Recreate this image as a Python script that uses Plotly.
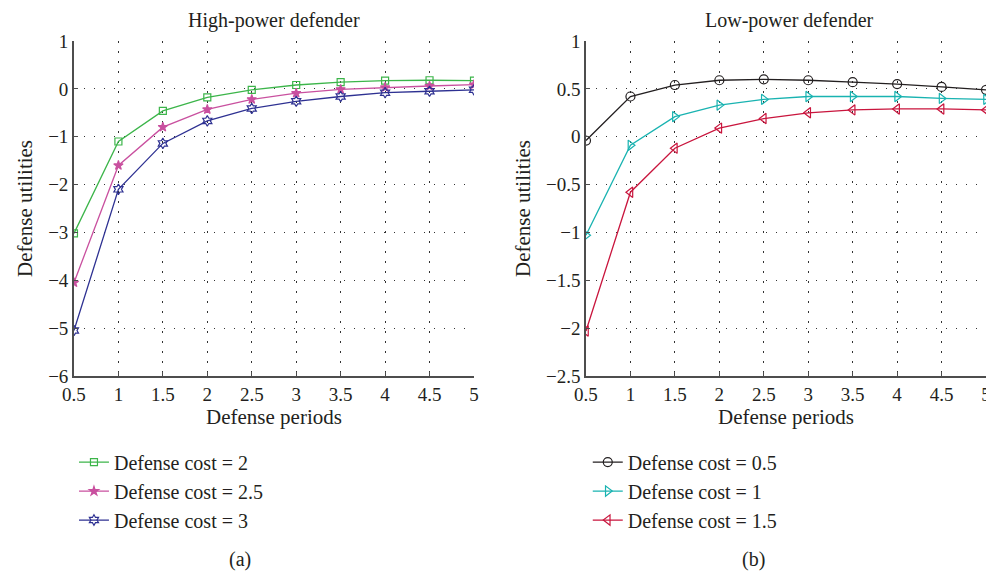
import plotly.graph_objects as go

periods = [0.5, 1, 1.5, 2, 2.5, 3, 3.5, 4, 4.5, 5]

# (a) High-power defender
hp_cost2 = [-3.02, -1.10, -0.46, -0.18, -0.02, 0.08, 0.14, 0.17, 0.18, 0.17]
hp_cost25 = [-4.05, -1.60, -0.80, -0.43, -0.22, -0.09, -0.01, 0.03, 0.06, 0.09]
hp_cost3 = [-5.05, -2.10, -1.14, -0.67, -0.41, -0.26, -0.16, -0.08, -0.05, -0.02]

# (b) Low-power defender
lp_cost05 = [-0.04, 0.42, 0.54, 0.59, 0.60, 0.59, 0.57, 0.55, 0.52, 0.49]
lp_cost1 = [-1.03, -0.09, 0.21, 0.33, 0.39, 0.42, 0.42, 0.42, 0.40, 0.39]
lp_cost15 = [-2.03, -0.58, -0.12, 0.09, 0.19, 0.25, 0.28, 0.29, 0.29, 0.28]

x_ticks = [0.5, 1, 1.5, 2, 2.5, 3, 3.5, 4, 4.5, 5]
x_ticklabels = ["0.5", "1", "1.5", "2", "2.5", "3", "3.5", "4", "4.5", "5"]
y_ticks_a = [1, 0, -1, -2, -3, -4, -5, -6]
y_ticklabels_a = ["1", "0", "\u22121", "\u22122", "\u22123", "\u22124", "\u22125", "\u22126"]
y_ticks_b = [1, 0.5, 0, -0.5, -1, -1.5, -2, -2.5]
y_ticklabels_b = ["1", "0.5", "0", "\u22120.5", "\u22121", "\u22121.5", "\u22122", "\u22122.5"]

FONT = "Liberation Serif"
TXT = "#231f20"

fig = go.Figure()

series_a = [
    ("Defense cost = 2", hp_cost2, "#3cb54a", "square-open", 7),
    ("Defense cost = 2.5", hp_cost25, "#c9509f", "star", 7),
    ("Defense cost = 3", hp_cost3, "#2e3192", "hexagram-open", 8),
]
series_b = [
    ("Defense cost = 0.5", lp_cost05, "#231f20", "circle-open", 9),
    ("Defense cost = 1", lp_cost1, "#19b3b1", "triangle-right-open", 9),
    ("Defense cost = 1.5", lp_cost15, "#c9153d", "triangle-left-open", 9),
]

for name, ys, col, sym, sz in series_a:
    fig.add_trace(go.Scatter(
        x=periods, y=ys, name=name, mode="lines+markers",
        line=dict(color=col, width=1.3),
        marker=dict(symbol=sym, size=sz, color=col, line=dict(color=col, width=1.2)),
        xaxis="x", yaxis="y", legend="legend",
    ))
for name, ys, col, sym, sz in series_b:
    fig.add_trace(go.Scatter(
        x=periods, y=ys, name=name, mode="lines+markers",
        line=dict(color=col, width=1.3),
        marker=dict(symbol=sym, size=sz, color=col, line=dict(color=col, width=1.2)),
        xaxis="x2", yaxis="y2", legend="legend2",
    ))

axis_common = dict(
    showline=True, linecolor="#4d4d4d", linewidth=1.6,
    ticks="inside", ticklen=4, tickcolor="#4d4d4d", tickwidth=1.2,
    showgrid=True, gridcolor="#333333", gridwidth=1, griddash="1.5px,8.5px",
    zeroline=False, mirror=False, automargin=False,
    tickfont=dict(family=FONT, size=19, color=TXT),
    title_font=dict(family=FONT, size=21, color=TXT),
)

fig.update_layout(
    width=986, height=569,
    margin=dict(l=0, r=0, t=0, b=0),
    paper_bgcolor="white", plot_bgcolor="white",
    font=dict(family=FONT, color=TXT),
    xaxis=dict(domain=[0.0669, 0.4726], range=[0.5, 5], tickvals=x_ticks, ticktext=x_ticklabels,
               title=dict(text="Defense periods", standoff=4), anchor="y", **axis_common),
    yaxis=dict(domain=[0.3533, 0.942], range=[-6, 1], tickvals=y_ticks_a, ticktext=y_ticklabels_a,
               title=dict(text="Defense utilities", standoff=10), anchor="x", **axis_common),
    xaxis2=dict(domain=[0.5862, 0.9919], range=[0.5, 5], tickvals=x_ticks, ticktext=x_ticklabels,
                title=dict(text="Defense periods", standoff=4), anchor="y2", **axis_common),
    yaxis2=dict(domain=[0.3533, 0.942], range=[-2.5, 1], tickvals=y_ticks_b, ticktext=y_ticklabels_b,
                title=dict(text="Defense utilities", standoff=10), anchor="x2", **axis_common),
    legend=dict(x=0.0669, y=0.151, xanchor="left", yanchor="middle",
                font=dict(family=FONT, size=20, color=TXT), bgcolor="rgba(0,0,0,0)",
                tracegroupgap=0, itemwidth=30),
    legend2=dict(x=0.588, y=0.151, xanchor="left", yanchor="middle",
                 font=dict(family=FONT, size=20, color=TXT), bgcolor="rgba(0,0,0,0)",
                 tracegroupgap=0, itemwidth=30),
    showlegend=True,
    annotations=[
        dict(text="High-power defender", x=0.2698, y=0.9785, xref="paper", yref="paper",
             xanchor="center", yanchor="middle", showarrow=False, borderpad=0,
             font=dict(family=FONT, size=20, color=TXT)),
        dict(text="Low-power defender", x=0.7931, y=0.9785, xref="paper", yref="paper",
             xanchor="center", yanchor="middle", showarrow=False, borderpad=0,
             font=dict(family=FONT, size=20, color=TXT)),
        dict(text="(a)", x=0.2353, y=0.030, xref="paper", yref="paper",
             xanchor="center", yanchor="middle", showarrow=False,
             font=dict(family=FONT, size=20, color=TXT)),
        dict(text="(b)", x=0.7556, y=0.030, xref="paper", yref="paper",
             xanchor="center", yanchor="middle", showarrow=False,
             font=dict(family=FONT, size=20, color=TXT)),
    ],
)

fig.write_html("out.html")
